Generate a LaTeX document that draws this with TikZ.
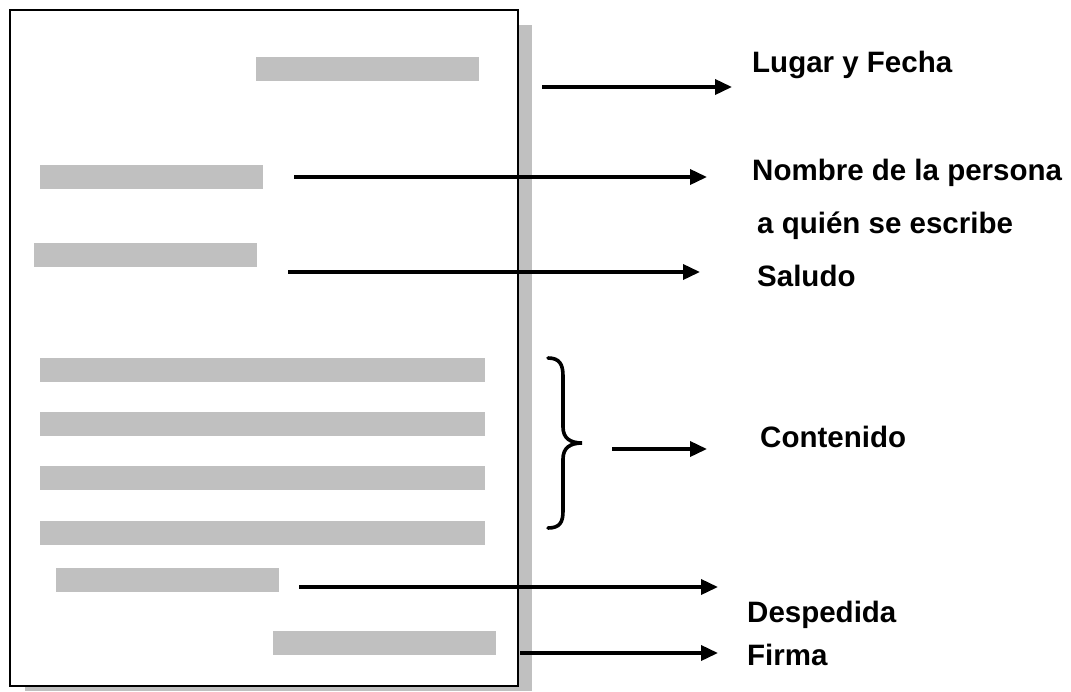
\documentclass[tikz,border=0pt]{standalone}
\usepackage{fontspec}
\setmainfont{Liberation Sans}
\usetikzlibrary{arrows.meta}
\definecolor{bargray}{HTML}{C0C0C0}
\tikzset{
  bar/.style={fill=bargray, draw=none, inner sep=0pt, minimum height=24pt, anchor=north west},
  lab/.style={anchor=base west, inner sep=0pt, font=\fontsize{29.5}{34}\selectfont\bfseries},
  arr/.style={line width=3.6pt, -{Triangle[length=17pt,width=15pt]}},
}
\begin{document}
\begin{tikzpicture}[x=1pt,y=-1pt]
\useasboundingbox (0,0) rectangle (1071,691);
% shadow
\fill[bargray] (516,25) rectangle (532,691);
\fill[bargray] (25,684) rectangle (532,691);
% page
\node[draw=black, line width=2.4pt, fill=white, inner sep=0pt, anchor=north west,
      minimum width=508pt, minimum height=676pt] (page) at (8.5,8.5) {};
% bars
\node[bar, minimum width=223pt] (b1) at (256,57) {};
\node[bar, minimum width=223pt] (b2) at (40,165) {};
\node[bar, minimum width=223pt] (b3) at (34,243) {};
\node[bar, minimum width=445pt] (b4) at (40,358) {};
\node[bar, minimum width=445pt] (b5) at (40,412) {};
\node[bar, minimum width=445pt] (b6) at (40,466) {};
\node[bar, minimum width=445pt] (b7) at (40,521) {};
\node[bar, minimum width=223pt] (b8) at (56,568) {};
\node[bar, minimum width=223pt] (b9) at (273,631) {};
% labels
\node[lab] (l1) at (752,72) {Lugar y Fecha};
\node[lab] (l2) at (752,180) {Nombre de la persona};
\node[lab] (l2b) at (757,233) {a quién se escribe};
\node[lab] (l3) at (757,286) {Saludo};
\node[lab] (l4) at (760,447) {Contenido};
\node[lab] (l5) at (747,622) {Despedida};
\node[lab] (l6) at (747,665) {Firma};
% arrow endpoints
\coordinate (s1) at (542,87);  \coordinate (e1) at (732,87);
\coordinate (s2) at (294,177); \coordinate (e2) at (707,177);
\coordinate (s3) at (288,272); \coordinate (e3) at (700,272);
\coordinate (s4) at (612,449); \coordinate (e4) at (707,449);
\coordinate (s5) at (299,587); \coordinate (e5) at (718,587);
\coordinate (s6) at (520,653); \coordinate (e6) at (718,653);
\draw[arr] (s1) -- (e1);
\draw[arr] (s2) -- (e2);
\draw[arr] (s3) -- (e3);
\draw[arr] (s4) -- (e4);
\draw[arr] (s5) -- (e5);
\draw[arr] (s6) -- (e6);
% brace
\draw[line width=3.6pt, line cap=round]
  (548,358) .. controls (560,358) and (563,365) .. (563,376)
  -- (563,427) .. controls (563,438) and (570,443) .. (582,443)
  .. controls (570,443) and (563,448) .. (563,459)
  -- (563,511) .. controls (563,522) and (560,528) .. (548,528);
\end{tikzpicture}
\end{document}
